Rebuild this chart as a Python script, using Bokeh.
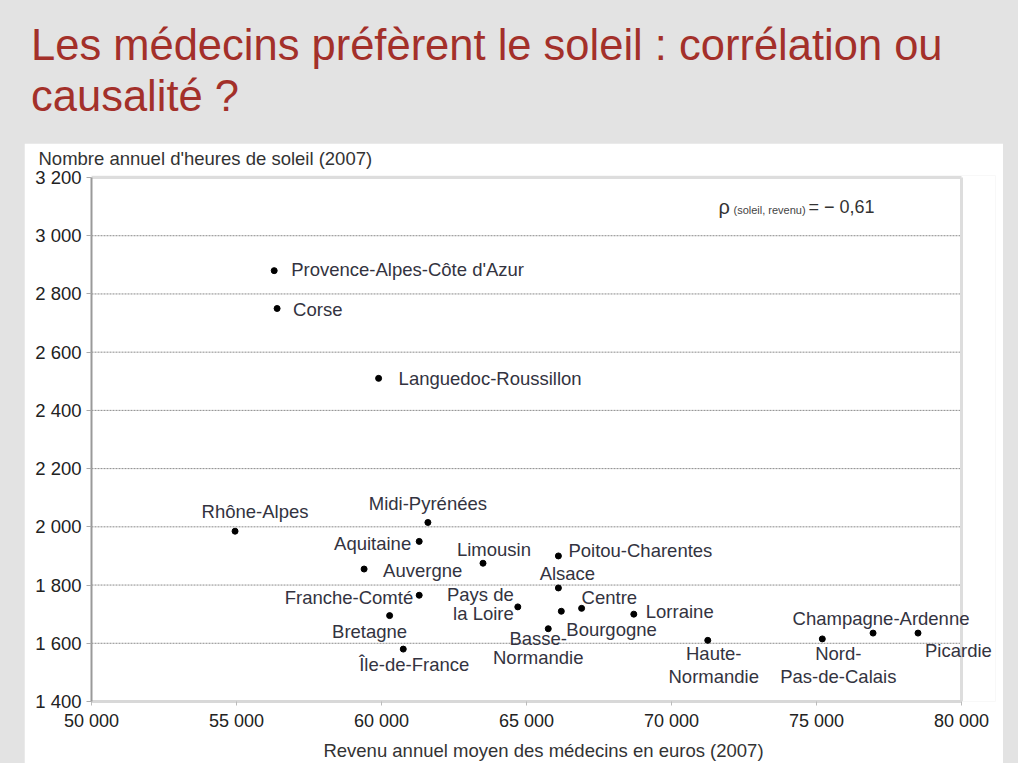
from bokeh.plotting import figure
from bokeh.models import (ColumnDataSource, FixedTicker, Label, LabelSet, Div, Spacer, Title)
from bokeh.layouts import column, row
from bokeh.embed import file_html
from bokeh.resources import INLINE
from bokeh.core.properties import value

# ---------------- data ----------------
regions = ["Provence-Alpes-Côte d'Azur", "Corse", "Languedoc-Roussillon", "Rhône-Alpes",
           "Midi-Pyrénées", "Aquitaine", "Auvergne", "Limousin", "Poitou-Charentes", "Alsace",
           "Franche-Comté", "Pays de\nla Loire", "Bretagne", "Île-de-France", "Basse-\nNormandie",
           "Bourgogne", "Centre", "Lorraine", "Haute-\nNormandie", "Nord-\nPas-de-Calais",
           "Champagne-Ardenne", "Picardie"]
revenu = [56300, 56400, 59900, 54950, 61600, 61300, 59400, 63500, 66100, 66100,
          61300, 64700, 60280, 60750, 65750, 66200, 66900, 68700, 71250, 75200,
          76950, 78500]
soleil = [2880, 2750, 2510, 1985, 2015, 1950, 1855, 1875, 1900, 1790,
          1765, 1725, 1695, 1580, 1650, 1710, 1720, 1700, 1610, 1615,
          1635, 1635]

x_ticks = [50000, 55000, 60000, 65000, 70000, 75000, 80000]
x_tick_labels = ["50 000", "55 000", "60 000", "65 000", "70 000", "75 000", "80 000"]
y_ticks = [1400, 1600, 1800, 2000, 2200, 2400, 2600, 2800, 3000, 3200]
y_tick_labels = ["1 400", "1 600", "1 800", "2 000", "2 200", "2 400", "2 600", "2 800", "3 000", "3 200"]

title_text = "Les médecins préfèrent le soleil : corrélation ou<br>causalité ?"
x_title = "Revenu annuel moyen des médecins en euros (2007)"
y_title = "Nombre annuel d'heures de soleil (2007)"
rho_value = "= − 0,61"

# ---------------- layout-only settings ----------------
label_dx = [17, 16, 20, 20, 0, -8, 19, 11, 10, 9, -6, -4, -20, 11, -10, 5, 0, 12, 6, 16, 8, 7]
label_dy = [-1, 1, 0, -20, -19, 2, 1, -14, -5, -14, 2, -3, 16, 15, 19, 18, -11, -3, 25, 26, -15, 17]
label_gap = [0, 0, 0, 0, 0, 0, 0, 0, 0, 0, 0, 19, 0, 0, 19, 0, 0, 0, 23, 23, 0, 0]
label_align = ["left", "left", "left", "center", "center", "right", "left", "center", "left", "center",
               "right", "right", "center", "center", "center", "left", "left", "left", "center", "center",
               "center", "left"]

FONT = "Liberation Sans"
BG = "#e3e3e3"

FIG_W, FIG_H = 979, 620
B_LEFT, B_TOP, B_BOTTOM, B_RIGHT = 67, 31, 62, 8
FRAME_PX_X = 870      # pixels from 50 000 to 80 000
FRAME_PX_Y = 525      # pixels from 1 400 to 3 200
px_x = FRAME_PX_X / (x_ticks[-1] - x_ticks[0])
px_y = FRAME_PX_Y / (y_ticks[-1] - y_ticks[0])
x_end = x_ticks[0] + (FIG_W - B_LEFT - B_RIGHT) / px_x
y_end = y_ticks[0] + (FIG_H - B_TOP - B_BOTTOM) / px_y

# one label row per text line (multi-line labels centred line by line)
lx, ly, lt, ldx, ldy, lal = [], [], [], [], [], []
for name, xv, yv, dx, dy, gap, al in zip(regions, revenu, soleil, label_dx, label_dy, label_gap, label_align):
    lines = name.split("\n")
    n = len(lines)
    for i, line in enumerate(lines):
        lx.append(xv); ly.append(yv); lt.append(line); ldx.append(dx)
        ldy.append(-(dy + (i - (n - 1) / 2) * gap)); lal.append(al)

pts = ColumnDataSource(dict(x=revenu, y=soleil))
lab = ColumnDataSource(dict(x=lx, y=ly, t=lt, dx=ldx, dy=ldy, al=lal))

p = figure(width=FIG_W, height=FIG_H, x_range=(x_ticks[0], x_end), y_range=(y_ticks[0], y_end),
           output_backend="svg", toolbar_location=None,
           min_border_left=B_LEFT, min_border_right=B_RIGHT, min_border_top=B_TOP,
           min_border_bottom=B_BOTTOM)
p.border_fill_color = "white"
p.background_fill_color = "white"
p.outline_line_color = None

# axes
p.xaxis.ticker = FixedTicker(ticks=x_ticks)
p.xaxis.major_label_overrides = dict(zip(x_ticks, x_tick_labels))
p.xaxis.bounds = (x_ticks[0], x_ticks[-1])
p.yaxis.ticker = FixedTicker(ticks=y_ticks)
p.yaxis.major_label_overrides = dict(zip(y_ticks, y_tick_labels))
p.yaxis.bounds = (y_ticks[0], y_ticks[-1])
for ax in (p.xaxis, p.yaxis):
    ax.minor_tick_line_color = None
    ax.major_tick_in = 0
    ax.major_label_text_font = FONT
    ax.major_label_text_color = "#222222"
    ax.axis_label_text_font = FONT
    ax.axis_label_text_font_size = "18.5px"
    ax.axis_label_text_font_style = "normal"
    ax.axis_label_text_color = "#333333"
p.xaxis.major_label_text_font_size = "18px"
p.yaxis.major_label_text_font_size = "18.5px"
p.xaxis.axis_line_color = "#d8d8d8"
p.xaxis.axis_line_width = 3
p.xaxis.major_tick_line_color = "#bbbbbb"
p.xaxis.major_tick_out = 4
p.xaxis.major_label_standoff = 5
p.xaxis.axis_label = x_title
p.xaxis.axis_label_standoff = 6
p.yaxis.axis_line_color = "#999999"
p.yaxis.axis_line_width = 2
p.yaxis.major_tick_line_color = "#aaaaaa"
p.yaxis.major_tick_out = 5
p.yaxis.major_label_standoff = 5

p.xgrid.grid_line_color = None
p.ygrid.grid_line_color = None

# dashed horizontal grid lines limited to the 50 000 - 80 000 span
grid_y = y_ticks[1:-1]
p.segment(x0=[x_ticks[0]] * len(grid_y), x1=[x_ticks[-1]] * len(grid_y), y0=grid_y, y1=grid_y,
          line_color="#8a8a8a", line_dash="2 1", line_width=1)
# light frame on top and right
p.segment(x0=[x_ticks[0], x_ticks[-1]], x1=[x_ticks[-1], x_ticks[-1]],
          y0=[y_ticks[-1], y_ticks[0]], y1=[y_ticks[-1], y_ticks[-1]],
          line_color="#dddddd", line_width=3)

# y-axis title above the top-left corner
p.add_layout(Title(text=y_title, align="left", offset=-53, text_font=FONT,
                   text_font_size="18.5px", text_font_style="normal",
                   text_color="#333333", standoff=9, vertical_align="top"), "above")

# points & labels
p.scatter("x", "y", source=pts, marker="circle", size=6, color="black")
p.add_layout(LabelSet(x="x", y="y", text="t", source=lab, x_offset="dx", y_offset="dy",
                      text_align="al", text_baseline="middle", text_font=value(FONT),
                      text_font_size="18.5px", text_color="#333340"))

# correlation annotation
rho_x, rho_y = 71620, 3100
p.add_layout(Label(x=rho_x, y=rho_y, text="ρ", text_font=FONT, text_font_size="20px",
                   text_color="#333333", text_baseline="alphabetic"))
p.add_layout(Label(x=rho_x, y=rho_y, x_offset=15, y_offset=-3, text="(soleil, revenu)",
                   text_font=FONT, text_font_size="11px", text_color="#444444",
                   text_baseline="alphabetic"))
p.add_layout(Label(x=rho_x, y=rho_y, x_offset=90, text=rho_value, text_font=FONT,
                   text_font_size="18px", text_color="#333333", text_baseline="alphabetic"))

title = Div(text=title_text, width=1008, height=133,
            styles={"font-family": FONT, "font-size": "43.5px", "line-height": "51px",
                    "color": "#a3302a", "padding-top": "15px", "padding-left": "26px",
                    "box-sizing": "border-box"})

layout = column(title, row(Spacer(width=24, height=FIG_H), p), spacing=0,
                styles={"background-color": BG})

open("out.html", "w").write(file_html(layout, INLINE))
